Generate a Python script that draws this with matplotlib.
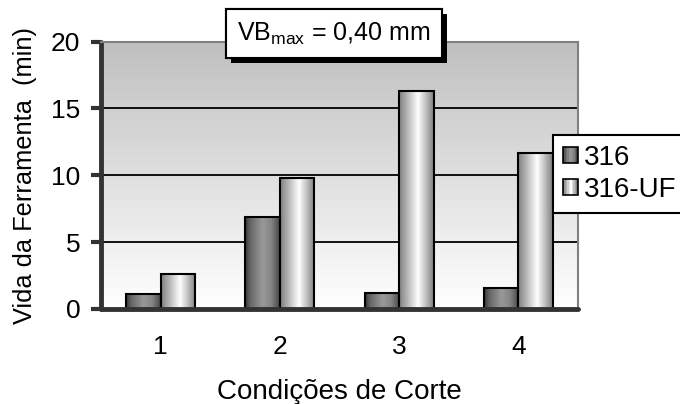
import numpy as np
import matplotlib as mpl
mpl.use('Agg')
import matplotlib.pyplot as plt
import matplotlib.patheffects as pe
from matplotlib.patches import Rectangle
from matplotlib.legend_handler import HandlerBase

plt.rcParams['font.family'] = ['Liberation Sans', 'DejaVu Sans']
plt.rcParams['mathtext.fontset'] = 'custom'
plt.rcParams['mathtext.rm'] = 'Liberation Sans'

categories = ['1', '2', '3', '4']
series = ['316', '316-UF']
vida_316 = [1.1, 6.9, 1.2, 1.6]
vida_316uf = [2.6, 9.8, 16.3, 11.7]

# grey shading across each bar: (position across bar, grey level)
shade_316 = ([0, 0.15, 0.5, 0.75, 1], [0.22, 0.4, 0.6, 0.52, 0.28])
shade_uf = ([0, 0.55, 1], [0.5, 1.0, 0.5])


def strip(stops, n=64):
  g = np.interp(np.linspace(0, 1, n), *stops)
  return np.stack([g, g, g], axis=-1)[None, :, :]


class GradientHandle(HandlerBase):
  def __init__(self, stops):
    super().__init__()
    self.stops = stops

  def create_artists(self, legend, orig_handle, xdescent, ydescent,
                     width, height, fontsize, trans):
    n = 10
    g = np.interp(np.linspace(0, 1, n), *self.stops)
    arts = []
    for k in range(n):
      arts.append(Rectangle((-xdescent + k * width / n, -ydescent), width / n, height,
                            facecolor=str(g[k]), edgecolor='none', transform=trans))
    arts.append(Rectangle((-xdescent, -ydescent), width, height, facecolor='none',
                          edgecolor='black', lw=1.2, transform=trans))
    return arts


fig = plt.figure(figsize=(6.8, 4.04), dpi=100)
ax = fig.add_axes([101 / 680, 95 / 404, 477 / 680, 267.5 / 404])

# plot area background, grey on top fading to white
bg = np.linspace(0.75, 1.0, 256)
ax.imshow(np.stack([bg, bg, bg], axis=-1)[:, None, :], extent=(0, 1, 0, 1),
          transform=ax.transAxes, aspect='auto', zorder=0)

x = np.arange(1, len(categories) + 1)
w = 0.29
bars_a = ax.bar(x - w / 2, vida_316, w, facecolor='none', edgecolor='black', lw=1.5, zorder=2)
bars_b = ax.bar(x + w / 2, vida_316uf, w, facecolor='none', edgecolor='black', lw=1.5, zorder=2)

for bars, stops in ((bars_a, shade_316), (bars_b, shade_uf)):
  img = strip(stops)
  for p in bars:
    x0, y0 = p.get_xy()
    ax.imshow(img, extent=(x0, x0 + p.get_width(), y0, y0 + p.get_height()),
              aspect='auto', zorder=1.9, interpolation='bilinear')

ax.set_xlim(0.5, 4.5)
ax.set_ylim(0, 20)
ax.set_yticks(range(0, 21, 5))
ax.set_xticks(x, categories)
ax.set_axisbelow(True)
ax.yaxis.grid(True, color='black', lw=1.3)

for s in ('left', 'bottom'):
  ax.spines[s].set_color('#333333')
  ax.spines[s].set_linewidth(3.5)
  ax.spines[s].set_capstyle('round')
for s in ('top', 'right'):
  ax.spines[s].set_color('#808080')
  ax.spines[s].set_linewidth(1.5)

ax.tick_params(axis='x', length=0, pad=19, labelsize=19)
ax.tick_params(axis='y', length=7, width=3, color='#333333', labelsize=19, pad=8)

ax.set_ylabel('Vida da Ferramenta  (min)', fontsize=18.3, labelpad=10)
ax.set_xlabel('Condições de Corte', fontsize=20, labelpad=14)

t = fig.text(334 / 680, 1 - 33.5 / 404, r'VB$_{\mathrm{max}}$ = 0,40 mm',
             ha='center', va='center', fontsize=18,
             bbox=dict(boxstyle='square,pad=0.45', fc='white', ec='black', lw=1.5))
t.get_bbox_patch().set_path_effects([
  pe.withSimplePatchShadow(offset=(3.5, -3.5), shadow_rgbFace='black', alpha=1.0),
  pe.Normal()])

handles = [Rectangle((0, 0), 1, 1), Rectangle((0, 0), 1, 1)]
leg = fig.legend(handles, series,
                 handler_map={handles[0]: GradientHandle(shade_316),
                              handles[1]: GradientHandle(shade_uf)},
                 loc='upper left', bbox_to_anchor=(553 / 680, 1 - 135 / 404),
                 bbox_transform=fig.transFigure, borderaxespad=0,
                 fontsize=20, handlelength=0.55, handleheight=0.55,
                 handletextpad=0.22, borderpad=0.35, labelspacing=0.22,
                 fancybox=False, framealpha=1, edgecolor='black')
leg.get_frame().set_linewidth(1.5)

plt.savefig('out.png', dpi=100)
